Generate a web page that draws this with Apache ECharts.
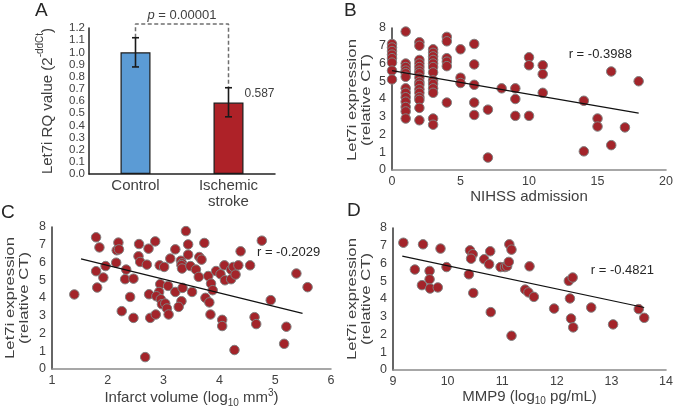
<!DOCTYPE html>
<html><head><meta charset="utf-8">
<script src="https://cdn.jsdelivr.net/npm/echarts@6/dist/echarts.min.js"></script>
<style>html,body{margin:0;padding:0;background:#fff}#c{width:676px;height:410px}</style>
</head><body><div id="c"></div>
<script>
// ---------- Panel A: bar chart ----------
const barCategories = ['Control', 'Ischemic\nstroke'];
const barMeans = [1.0, 0.587];
const barErrLow = [0.88, 0.47];
const barErrHigh = [1.12, 0.709];
const barColors = ['#5b9bd5', '#ae2228'];
const barValueLabel = '0.587';
const pValueText = 'p = 0.00001';
const bracketTop = 1.233;

// ---------- Panel B: NIHSS admission ----------
const nihssScore = [
  0,0,0,0,0,0,0,0,
  1,1,1,1,1,1,1,1,1,1,1,1,1,
  2,2,2,2,2,2,2,2,2,2,2,2,2,2,2,2,
  3,3,3,3,3,3,3,3,3,3,3,3,3,
  4,4,4,4,4,4,
  5,5,5,
  6,6,6,6,6,
  7,7,
  8,
  9,9,9,
  10,10,10,
  11,11,11,
  14,14,
  15,15,
  16,16,
  17,
  18
];
const nihssLet7i = [
  7.1,6.9,6.7,6.5,6.3,6.05,5.6,5.1,
  7.8,6.0,5.8,5.6,5.45,5.25,4.6,4.35,4.1,3.85,3.55,3.3,2.9,
  7.2,7.0,6.2,6.0,5.8,5.6,5.45,5.2,4.95,4.8,4.55,4.35,4.1,3.95,3.5,2.8,
  6.8,6.6,6.4,6.2,6.0,5.8,5.5,5.05,4.85,4.6,4.35,2.9,2.55,
  7.5,7.25,6.3,6.1,5.85,3.8,
  6.8,5.2,4.9,
  7.1,5.95,4.8,3.8,3.1,
  3.4,0.7,
  4.6,
  4.6,4.0,3.05,
  6.35,5.9,3.05,
  5.9,5.4,4.35,
  3.9,1.05,
  2.9,2.45,
  5.55,1.4,
  2.4,
  5.0
];
const nihssFitX = [0, 18];
const nihssFitY = [5.6, 3.2];
const nihssR = 'r = -0.3988';

// ---------- Panel C: infarct volume ----------
const infarctLogVol = [
  1.40,1.79,1.85,1.79,1.92,1.81,1.96,2.19,2.16,2.20,2.15,2.33,2.31,2.46,2.25,2.40,2.46,
  2.56,2.55,2.58,2.73,2.85,2.70,2.74,2.76,2.86,2.67,2.93,2.94,2.92,2.87,2.95,2.97,3.03,
  3.06,3.09,3.01,3.12,3.08,3.21,3.21,3.40,3.44,3.44,3.31,3.33,3.32,3.33,3.48,3.58,3.64,
  3.68,3.73,3.63,3.51,3.34,3.32,3.27,3.80,3.85,3.88,3.75,3.82,3.84,3.94,4.02,4.09,4.10,
  4.21,4.21,4.25,4.29,4.34,4.38,4.55,4.76,4.05,4.05,4.27,4.63,4.66,4.92,5.20,5.16,5.38,5.58
];
const infarctLet7i = [
  4.20,7.42,6.85,5.51,5.15,4.59,5.80,7.12,6.69,6.74,5.99,5.60,5.06,5.09,3.26,4.06,2.88,
  7.04,6.35,6.03,6.78,7.19,5.88,4.21,2.88,3.07,0.67,5.84,4.78,4.34,4.10,3.93,3.65,3.69,
  3.41,3.07,5.75,6.22,4.68,6.74,4.34,7.77,7.02,6.44,6.10,5.95,5.85,5.66,5.80,5.60,6.31,
  6.16,7.10,5.19,4.34,4.57,3.82,3.50,5.24,4.81,4.44,4.01,3.75,3.07,5.52,5.34,5.84,5.00,
  5.06,5.60,5.75,5.32,5.84,6.63,5.84,7.23,2.77,2.42,1.07,2.92,2.53,3.88,2.38,1.42,5.38,4.61
];
const infarctFitX = [1.52, 5.49];
const infarctFitY = [6.2, 3.13];
const infarctR = 'r = -0.2029';

// ---------- Panel D: MMP9 ----------
const mmp9Log = [
  9.19,9.55,9.87,9.40,9.67,9.67,9.53,9.68,9.82,9.98,10.39,10.41,10.46,10.43,10.47,10.67,
  10.78,10.76,10.79,10.97,11.05,11.09,11.12,11.13,11.17,11.17,11.42,11.48,11.58,11.50,
  11.95,12.22,12.29,12.24,12.26,12.30,12.63,13.03,13.50,13.60
];
const mmp9Let7i = [
  7.17,7.08,6.84,5.66,5.58,5.11,4.78,4.59,4.65,5.80,5.39,6.74,6.52,6.27,4.34,6.24,
  6.69,5.96,3.26,5.80,5.80,5.85,6.09,7.08,6.78,1.93,4.53,4.37,4.12,5.84,
  3.46,5.02,5.21,4.03,2.90,2.40,3.52,2.57,3.43,2.94
];
const mmp9FitX = [9.17, 13.60];
const mmp9FitY = [6.42, 3.52];
const mmp9R = 'r = -0.4821';

// ---------- annotation anchors (data coordinates) ----------
const rLabelAnchors = [[15.2, 6.5], [5.24, 6.59], [13.2, 5.62]];

const FONT = '"Liberation Sans", Arial, Helvetica, sans-serif';
const TXT = '#404040';
const zip = (a, b) => a.map((v, i) => [v, b[i]]);

const chart = echarts.init(document.getElementById('c'), null, {renderer: 'canvas'});

function valueXAxis(gi, min, max, interval, name, gap) {
  return {
    type: 'value', gridIndex: gi, min: min, max: max, interval: interval,
    axisLine: {show: true, lineStyle: {color: '#8a8a8a', width: 1.5}},
    axisTick: {show: false}, splitLine: {show: false},
    axisLabel: {fontSize: 12.5, color: TXT, margin: 5, fontFamily: FONT},
    name: name, nameLocation: 'middle', nameGap: gap,
    nameTextStyle: {fontSize: 15, color: TXT, fontFamily: FONT,
      rich: {
        t: {fontSize: 15, color: TXT, fontFamily: FONT, lineHeight: 20, verticalAlign: 'middle'},
        sub: {fontSize: 10, color: TXT, fontFamily: FONT, lineHeight: 10, verticalAlign: 'bottom'},
        sup: {fontSize: 10, color: TXT, fontFamily: FONT, lineHeight: 10, verticalAlign: 'top'}
      }}
  };
}
function valueYAxis(gi) {
  return {
    type: 'value', gridIndex: gi, min: 0, max: 8, interval: 1,
    axisLine: {show: true, lineStyle: {color: '#333', width: 1.5}},
    axisTick: {show: false}, splitLine: {show: false},
    axisLabel: {fontSize: 12.5, color: TXT, margin: 6, fontFamily: FONT}
  };
}
function scatterSeries(xi, data) {
  return {
    type: 'scatter', xAxisIndex: xi, yAxisIndex: xi, data: data, symbolSize: 9.5,
    itemStyle: {color: '#a3242a', borderColor: '#808080', borderWidth: 1, opacity: 1},
    z: 3
  };
}
function fitSeries(xi, xs, ys) {
  return {
    type: 'line', xAxisIndex: xi, yAxisIndex: xi, data: zip(xs, ys), symbol: 'none',
    lineStyle: {color: '#111', width: 1.2}, z: 4, silent: true
  };
}

chart.setOption({
  animation: false,
  textStyle: {fontFamily: FONT},
  grid: [
    {left: 89, top: 28, width: 186, height: 146},
    {left: 392, top: 28, width: 275, height: 142},
    {left: 52, top: 227, width: 279, height: 142},
    {left: 393, top: 228, width: 277, height: 142}
  ],
  xAxis: [
    {
      type: 'category', gridIndex: 0, data: barCategories,
      axisLine: {show: true, lineStyle: {color: '#222', width: 1.5}},
      axisTick: {show: false},
      axisLabel: {fontSize: 15, color: TXT, margin: 4, lineHeight: 16, fontFamily: FONT}
    },
    valueXAxis(1, 0, 20, 5, 'NIHSS admission', 17),
    valueXAxis(2, 1, 6, 1, '{t|Infarct volume (log}{sub|10}{t| mm}{sup|3}{t|)}', 18),
    valueXAxis(3, 9, 14, 1, '{t|MMP9 (log}{sub|10}{t| pg/mL)}', 16)
  ],
  yAxis: [
    {
      type: 'value', gridIndex: 0, min: 0, max: 1.2, interval: 0.1,
      axisLine: {show: true, lineStyle: {color: '#222', width: 1.5}},
      axisTick: {show: false}, splitLine: {show: false},
      axisLabel: {fontSize: 11.5, color: TXT, margin: 4, fontFamily: FONT,
        formatter: v => v.toFixed(1)},
      name: '{t|Let7i RQ value (2}{s|-ddCt}{t|)}',
      nameLocation: 'middle', nameGap: 34,
      nameTextStyle: {rich: {
        t: {fontSize: 15, color: TXT, fontFamily: FONT, lineHeight: 20, verticalAlign: 'bottom'},
        s: {fontSize: 10, color: TXT, fontFamily: FONT, lineHeight: 10, verticalAlign: 'top'}
      }}
    },
    valueYAxis(1), valueYAxis(2), valueYAxis(3)
  ],
  series: [
    {
      type: 'bar', xAxisIndex: 0, yAxisIndex: 0, barWidth: 30,
      data: barMeans.map((v, i) => ({
        value: v,
        itemStyle: {color: barColors[i], borderColor: '#1a1a1a', borderWidth: 1.2},
        label: i === 1 ? {show: true, formatter: barValueLabel, position: [31, -9],
          align: 'left', verticalAlign: 'middle', fontSize: 12, color: TXT, fontFamily: FONT} : {show: false}
      }))
    },
    {
      type: 'custom', xAxisIndex: 0, yAxisIndex: 0, z: 5,
      data: barCategories.map((c, i) => [i, barErrLow[i], barErrHigh[i]]),
      encode: {x: 0, y: [1, 2]},
      renderItem: function (params, api) {
        const c = api.value(0);
        const lo = api.coord([c, api.value(1)]);
        const hi = api.coord([c, api.value(2)]);
        const w = 3.5;
        const st = {stroke: '#1a1a1a', lineWidth: 1.6};
        return {type: 'group', children: [
          {type: 'line', shape: {x1: lo[0], y1: lo[1], x2: hi[0], y2: hi[1]}, style: st},
          {type: 'line', shape: {x1: lo[0] - w, y1: lo[1], x2: lo[0] + w, y2: lo[1]}, style: st},
          {type: 'line', shape: {x1: hi[0] - w, y1: hi[1], x2: hi[0] + w, y2: hi[1]}, style: st}
        ]};
      }
    },
    {
      type: 'line', xAxisIndex: 0, yAxisIndex: 0, symbol: 'none', clip: false, silent: true,
      data: [[0, barErrHigh[0]], [0, bracketTop], [1, bracketTop], [1, barErrHigh[1]]],
      lineStyle: {color: '#6f6f6f', width: 1.5, type: [4, 2.5]}
    },
    scatterSeries(1, zip(nihssScore, nihssLet7i)),
    fitSeries(1, nihssFitX, nihssFitY),
    scatterSeries(2, zip(infarctLogVol, infarctLet7i)),
    fitSeries(2, infarctFitX, infarctFitY),
    scatterSeries(3, zip(mmp9Log, mmp9Let7i)),
    fitSeries(3, mmp9FitX, mmp9FitY)
  ]
});

// annotations positioned through the chart's own coordinate systems
const pL = chart.convertToPixel({xAxisIndex: 0, yAxisIndex: 0}, [0, bracketTop]);
const pR = chart.convertToPixel({xAxisIndex: 0, yAxisIndex: 0}, [1, bracketTop]);
const rTexts = [nihssR, infarctR, mmp9R];
const rPix = rLabelAnchors.map((p, i) =>
  chart.convertToPixel({xAxisIndex: i + 1, yAxisIndex: i + 1}, p));

const graphics = [];
graphics.push({
  type: 'text', x: (pL[0] + pR[0]) / 2, y: pL[1] - 9,
  style: {text: '{i|p} = 0.00001', align: 'center', verticalAlign: 'middle',
    font: '13px ' + FONT, fill: TXT,
    rich: {i: {fontStyle: 'italic', fontSize: 13, fontFamily: FONT, fill: TXT}}}
});
rPix.forEach((p, i) => graphics.push({
  type: 'text', x: p[0], y: p[1],
  style: {text: rTexts[i], align: 'center', verticalAlign: 'middle',
    font: '13px ' + FONT, fill: '#262626'}
}));
// panel letters
[['A', 35, 1], ['B', 344, 1], ['C', 1, 203], ['D', 347, 201]].forEach(a => graphics.push({
  type: 'text', x: a[1], y: a[2],
  style: {text: a[0], font: '19px ' + FONT, fill: '#262626', align: 'left', verticalAlign: 'top'}
}));
// y-axis titles of scatter panels
[[359, 100], [17, 298], [359, 299]].forEach(p => graphics.push({
  type: 'text', x: p[0], y: p[1], rotation: Math.PI / 2, scaleX: 1.24,
  style: {text: 'Let7i expression\n(relative CT)', align: 'center', verticalAlign: 'middle',
    font: '13.5px ' + FONT, lineHeight: 14, fill: TXT}
}));
chart.setOption({graphic: graphics});
</script>
</body></html>
